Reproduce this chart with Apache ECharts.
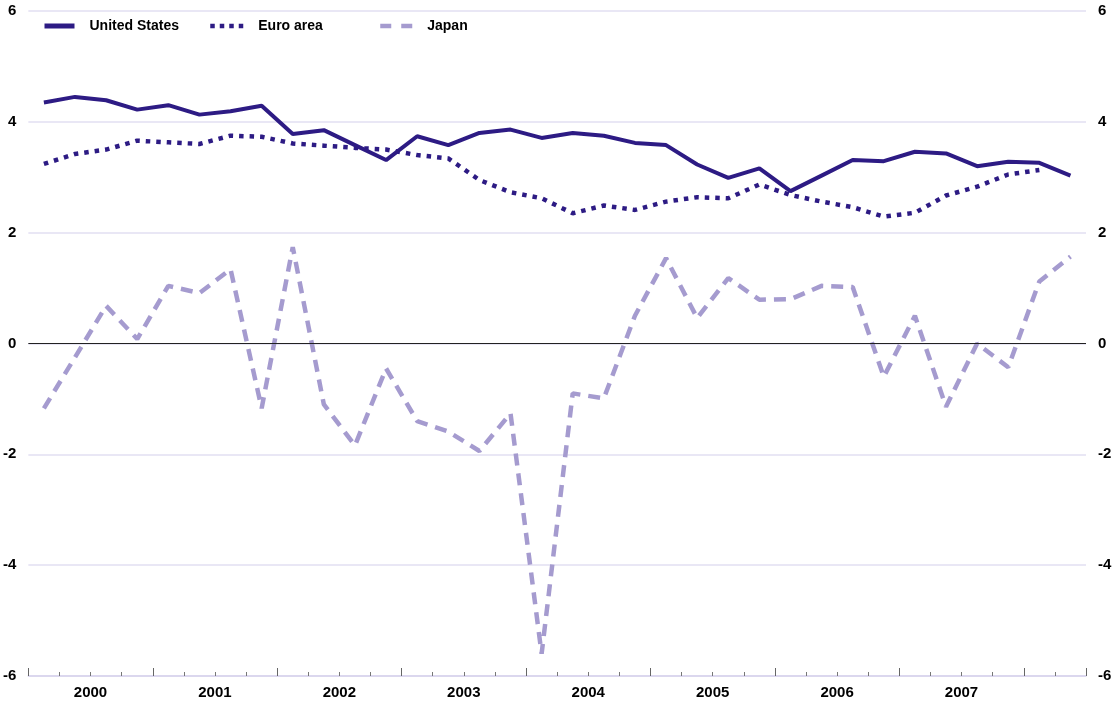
<!DOCTYPE html>
<html>
<head>
<meta charset="utf-8">
<script src="https://cdn.jsdelivr.net/npm/echarts@6/dist/echarts.min.js"></script>
<style>
html,body{margin:0;padding:0;background:#fff;}
#chart{width:1118px;height:704px;}
</style>
</head>
<body>
<div id="chart"></div>
<script>
var quarters = [];
(function(){
  var years = ['2000','2001','2002','2003','2004','2005','2006','2007','2008'];
  for (var y = 0; y < years.length; y++) {
    for (var q = 1; q <= 4; q++) {
      if (quarters.length < 34) quarters.push(years[y] + 'Q' + q);
    }
  }
})();

var unitedStates = [4.35, 4.45, 4.39, 4.22, 4.30, 4.13, 4.19, 4.29, 3.78, 3.85, 3.58, 3.31, 3.74, 3.58, 3.80, 3.86, 3.71, 3.80, 3.75, 3.62, 3.58, 3.23, 2.99, 3.16, 2.75, 3.03, 3.31, 3.29, 3.46, 3.43, 3.20, 3.28, 3.26, 3.03];
var euroArea = [3.24, 3.42, 3.50, 3.66, 3.63, 3.60, 3.75, 3.73, 3.61, 3.57, 3.53, 3.50, 3.40, 3.34, 2.95, 2.73, 2.62, 2.35, 2.49, 2.41, 2.56, 2.64, 2.62, 2.87, 2.68, 2.56, 2.46, 2.29, 2.36, 2.67, 2.83, 3.05, 3.13, null];
var japan = [-1.17, -0.25, 0.68, 0.08, 1.04, 0.91, 1.34, -1.17, 1.74, -1.10, -1.84, -0.45, -1.40, -1.59, -1.94, -1.26, -5.60, -0.90, -0.99, 0.50, 1.54, 0.46, 1.18, 0.79, 0.80, 1.04, 1.02, -0.60, 0.50, -1.14, 0.00, -0.43, 1.12, 1.57];
var yTicks = {min: -6, max: 6, interval: 2};

var dark = '#2d1b84';
var light = '#a59bcf';
var gridColor = '#e2dff2';
var font = 'Arial, "Liberation Sans", sans-serif';

var chart = echarts.init(document.getElementById('chart'), null, {renderer: 'canvas'});

function yAxisDef(pos) {
  return {
    type: 'value', position: pos,
    min: yTicks.min, max: yTicks.max, interval: yTicks.interval,
    axisLine: {show: false}, axisTick: {show: false},
    axisLabel: {color: '#000', fontFamily: font, fontWeight: 'bold', fontSize: 15, margin: 12},
    splitLine: {show: pos === 'left', lineStyle: {color: gridColor, width: 1.5}}
  };
}

var legendText = {color: '#000', fontFamily: font, fontWeight: 'bold', fontSize: 14, padding: [0, 0, 0, 10]};
var legendBase = {top: 14, itemHeight: 14, itemStyle: {opacity: 0}, textStyle: legendText};

chart.setOption({
  animation: false,
  backgroundColor: '#fff',
  grid: {left: 28, right: 32, top: 11, bottom: 28},
  legend: [
    Object.assign({data: ['United States'], left: 37, itemWidth: 30, lineStyle: {width: 5}}, legendBase),
    Object.assign({data: ['Euro area'], left: 203, itemWidth: 33, lineStyle: {width: 4.5, type: [4.5, 5]}}, legendBase),
    Object.assign({data: ['Japan'], left: 373, itemWidth: 32, lineStyle: {width: 4.5, type: [11, 10]}}, legendBase)
  ],
  xAxis: [
    {
      type: 'category', data: quarters, boundaryGap: true, position: 'bottom',
      axisLine: {show: true, onZero: false, lineStyle: {color: '#d6d2ec', width: 1.5}},
      axisTick: {show: true, interval: 0, inside: true, length: 4, lineStyle: {color: '#777', width: 1}},
      axisLabel: {
        show: true, interval: function (i) { return i % 4 === 1 && i < 32; },
        formatter: function (v) { return v.slice(0, 4); },
        padding: [0, 0, 0, 31],
        color: '#000', fontFamily: font, fontWeight: 'bold', fontSize: 15, margin: 9
      },
      splitLine: {show: false}
    },
    {
      type: 'category', data: quarters, boundaryGap: true, position: 'bottom',
      axisLine: {show: false, onZero: false},
      axisTick: {show: true, interval: 3, inside: true, length: 8, lineStyle: {color: '#666', width: 1}},
      axisLabel: {show: false},
      splitLine: {show: false}
    }
  ],
  yAxis: [yAxisDef('left'), yAxisDef('right')],
  series: [
    {
      name: 'Japan', type: 'line', data: japan, xAxisIndex: 0, yAxisIndex: 0,
      symbol: 'none', color: light,
      lineStyle: {color: light, width: 4.5, type: [12, 8], cap: 'butt'},
      z: 2
    },
    {
      name: 'Euro area', type: 'line', data: euroArea, xAxisIndex: 0, yAxisIndex: 0,
      symbol: 'none', color: dark,
      lineStyle: {color: dark, width: 4.5, type: [4.5, 6], cap: 'butt'},
      z: 3
    },
    {
      name: 'United States', type: 'line', data: unitedStates, xAxisIndex: 0, yAxisIndex: 0,
      symbol: 'none', color: dark,
      lineStyle: {color: dark, width: 4},
      z: 4,
      markLine: {
        silent: true, symbol: 'none', label: {show: false},
        lineStyle: {color: '#222', width: 1.2, type: 'solid'},
        data: [{yAxis: 0}]
      }
    }
  ]
});
</script>
</body>
</html>
